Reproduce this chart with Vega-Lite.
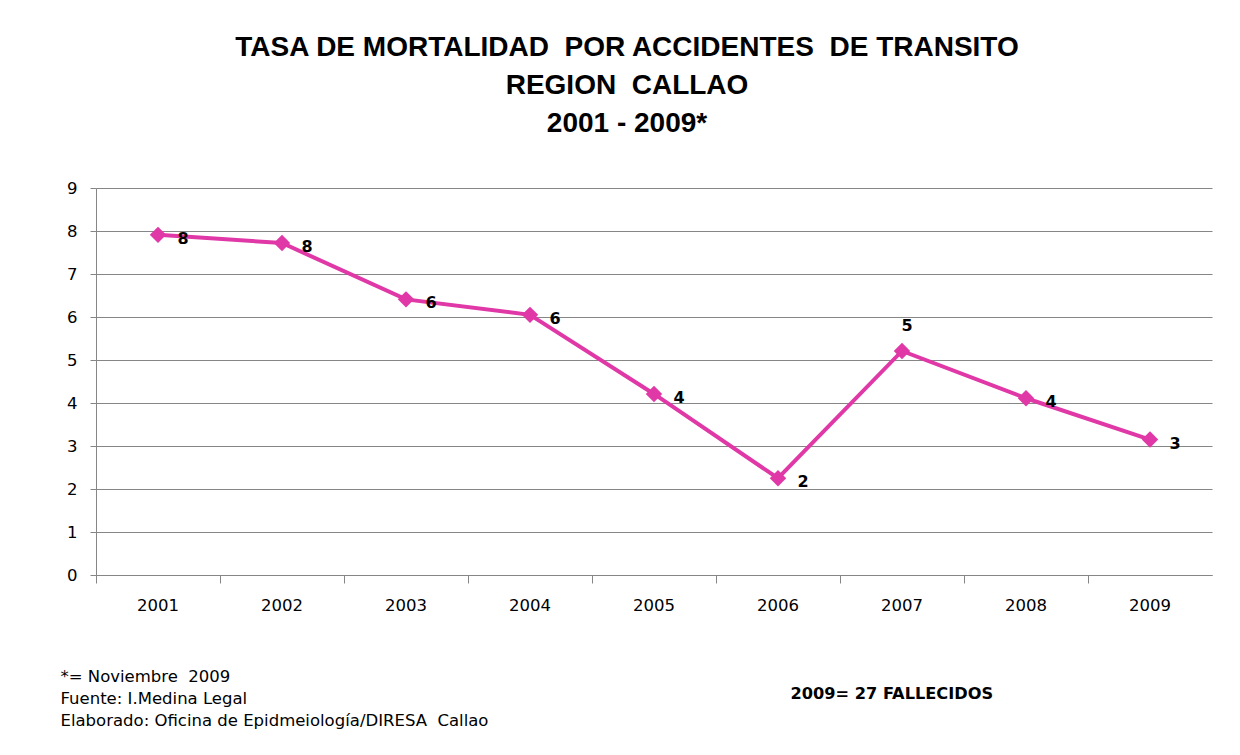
{
  "$schema": "https://vega.github.io/schema/vega-lite/v6.json",
  "autosize": {"type": "none"},
  "width": 1116,
  "height": 387,
  "padding": {"left": 96, "top": 188, "right": 28, "bottom": 180},
  "background": "white",
  "title": {
    "text": ["TASA DE MORTALIDAD \u00a0POR ACCIDENTES \u00a0DE TRANSITO", "REGION \u00a0CALLAO", "2001 - 2009*"],
    "font": "Liberation Sans",
    "fontSize": 28,
    "fontWeight": "bold",
    "color": "#000000",
    "lineHeight": 38,
    "anchor": "middle",
    "dx": -27,
    "offset": 42
  },
  "data": {
    "values": [
      {"year": "2001", "rate": 7.91},
      {"year": "2002", "rate": 7.72},
      {"year": "2003", "rate": 6.41},
      {"year": "2004", "rate": 6.05},
      {"year": "2005", "rate": 4.21},
      {"year": "2006", "rate": 2.25},
      {"year": "2007", "rate": 5.21},
      {"year": "2008", "rate": 4.11},
      {"year": "2009", "rate": 3.15}
    ]
  },
  "encoding": {
    "x": {
      "field": "year",
      "type": "ordinal",
      "scale": {"type": "band", "paddingInner": 0, "paddingOuter": 0},
      "axis": {
        "title": ["*= Noviembre \u00a02009", "Fuente: I.Medina Legal", "Elaborado: Oficina de Epidmeiología/DIRESA \u00a0Callao"],
        "titleFont": "DejaVu Sans",
        "titleFontSize": 16.5,
        "titleFontWeight": "normal",
        "titleColor": "#000000",
        "titleLineHeight": 22,
        "titleAlign": "left",
        "titleBaseline": "top",
        "titleAnchor": "start",
        "titleX": -36,
        "titleY": 93,
        "labelAngle": 0,
        "labelFont": "DejaVu Sans",
        "labelFontSize": 16.5,
        "labelColor": "#000000",
        "labelPadding": 14,
        "bandPosition": 0,
        "ticks": true,
        "tickSize": 8,
        "tickColor": "#868686",
        "domainColor": "#868686",
        "grid": false
      }
    },
    "y": {
      "field": "rate",
      "type": "quantitative",
      "scale": {"domain": [0, 9], "nice": false},
      "axis": {
        "title": "2009= 27 FALLECIDOS",
        "titleFont": "DejaVu Sans",
        "titleFontSize": 16.2,
        "titleFontWeight": "bold",
        "titleColor": "#000000",
        "titleAngle": 0,
        "titleAlign": "left",
        "titleBaseline": "middle",
        "titleX": 694,
        "titleY": 505,
        "values": [0, 1, 2, 3, 4, 5, 6, 7, 8, 9],
        "labelFont": "DejaVu Sans",
        "labelFontSize": 16.5,
        "labelColor": "#000000",
        "labelPadding": 13,
        "tickSize": 6,
        "tickColor": "#868686",
        "domainColor": "#868686",
        "grid": true,
        "gridColor": "#868686",
        "gridWidth": 1
      }
    }
  },
  "layer": [
    {"mark": {"type": "line", "color": "#E038A6", "strokeWidth": 4}},
    {"mark": {"type": "point", "shape": "diamond", "filled": true, "size": 270, "color": "#E038A6", "opacity": 1}},
    {
      "transform": [{"filter": "datum.year != '2007'"}],
      "mark": {"type": "text", "font": "DejaVu Sans", "fontSize": 16, "fontWeight": "bold", "color": "#000000", "dx": 25, "dy": 4},
      "encoding": {"text": {"field": "rate", "type": "quantitative", "format": ".0f"}}
    },
    {
      "transform": [{"filter": "datum.year == '2007'"}],
      "mark": {"type": "text", "font": "DejaVu Sans", "fontSize": 16, "fontWeight": "bold", "color": "#000000", "dx": 5, "dy": -25},
      "encoding": {"text": {"field": "rate", "type": "quantitative", "format": ".0f"}}
    }
  ],
  "config": {
    "view": {"stroke": null}
  }
}
